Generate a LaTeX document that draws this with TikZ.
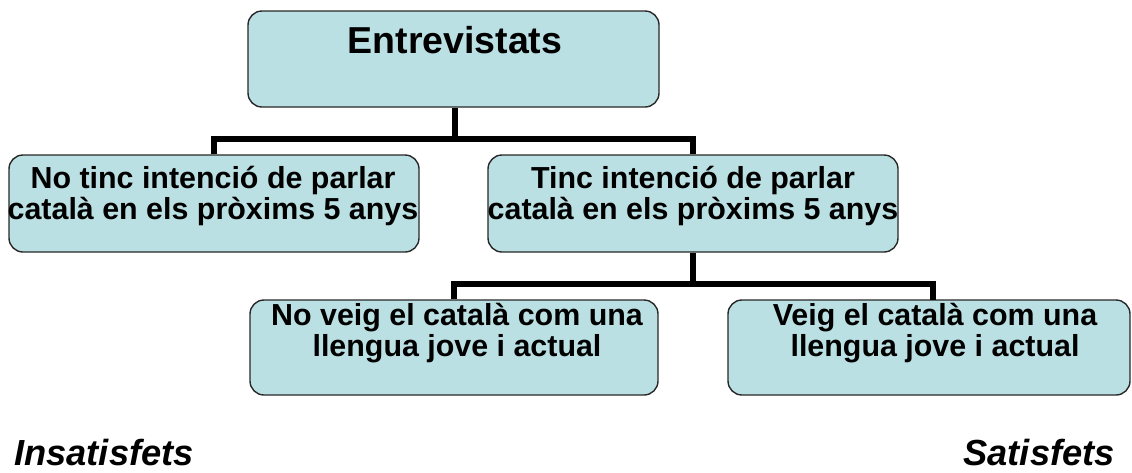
\documentclass[tikz,border=0pt]{standalone}
\usepackage{fontspec}
\setmainfont{Liberation Sans}
\definecolor{boxfill}{RGB}{187,224,227}
\definecolor{boxline}{RGB}{40,40,40}
\begin{document}
\begin{tikzpicture}[x=1pt,y=-1pt,
  bx/.style={draw=boxline, line width=1.4pt, fill=boxfill, rounded corners=14pt, inner sep=0pt},
  conn/.style={line width=5.5pt, draw=black, line join=miter},
  txt/.style={inner sep=0pt, anchor=base, font=\bfseries\fontsize{30.4}{31}\selectfont},
  side/.style={inner sep=0pt, anchor=base, font=\bfseries\itshape\fontsize{36.3}{40}\selectfont}]
\useasboundingbox (0,0) rectangle (1132,472);
% boxes
\node[bx, minimum width=411pt, minimum height=96pt] (b1) at (453.5,59) {};
\node[bx, minimum width=410pt, minimum height=97pt] (b2) at (214,203.5) {};
\node[bx, minimum width=410pt, minimum height=97pt] (b3) at (693,203.5) {};
\node[bx, minimum width=408pt, minimum height=95pt] (b4) at (454,347.5) {};
\node[bx, minimum width=402pt, minimum height=95pt] (b5) at (929,347.5) {};
% junctions
\coordinate (j1) at (455,139);
\coordinate (j2) at (693,284);
\coordinate (e5) at (933,300);
% connectors
\draw[conn] (j1 |- b1.south) -- (j1);
\draw[conn] (b2.north) -- (b2.north |- j1) -- (b3.north |- j1) -- (b3.north);
\draw[conn] (b3.south) -- (j2);
\draw[conn] (b4.north) -- (b4.north |- j2) -- (e5 |- j2) -- (e5);
% texts
\node[txt, font=\bfseries\fontsize{37.5}{40}\selectfont] (t1) at (455,53) {Entrevistats};
\node[txt] (t2) at (213,188) {\begin{tabular}[t]{@{}c@{}}No tinc intenció de parlar\\català en els pròxims 5 anys\end{tabular}};
\node[txt] (t3) at (693,188) {\begin{tabular}[t]{@{}c@{}}Tinc intenció de parlar\\català en els pròxims 5 anys\end{tabular}};
\node[txt] (t4) at (457,325) {\begin{tabular}[t]{@{}c@{}}No veig el català com una\\llengua jove i actual\end{tabular}};
\node[txt] (t5) at (935,325) {\begin{tabular}[t]{@{}c@{}}Veig el català com una\\llengua jove i actual\end{tabular}};
\node[side, anchor=base west] (s1) at (14,465) {Insatisfets};
\node[side, anchor=base east] (s2) at (1115,465) {Satisfets};
\end{tikzpicture}
\end{document}
